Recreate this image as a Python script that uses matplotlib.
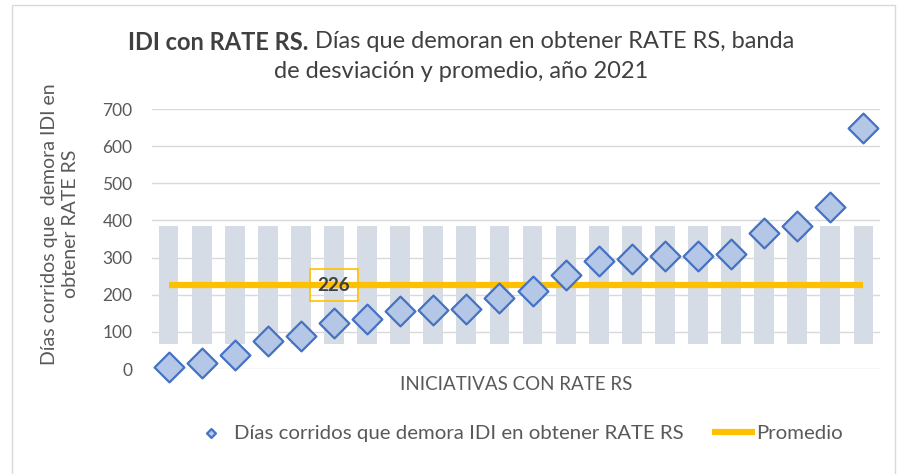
import matplotlib
matplotlib.use("Agg")
import matplotlib.pyplot as plt
import numpy as np
from matplotlib.patches import Rectangle

# data
dias = [5, 16, 37, 75, 89, 125, 134, 155, 160, 161, 192, 211, 254, 290,
        295, 305, 303, 310, 367, 386, 437, 649]
promedio = 226
banda_inf = 68
banda_sup = 384
yticks = [0, 100, 200, 300, 400, 500, 600, 700]

FONT = ["Lato", "DejaVu Sans"]
plt.rcParams["font.family"] = FONT
GRAY = "#595959"

W, H = 907, 474
fig = plt.figure(figsize=(W/100, H/100), dpi=100)

# outer chart border
fig.patches.append(Rectangle((12/W, -0.01), (895-12)/W, (H-5)/H + 0.01, transform=fig.transFigure,
                             fill=False, ec="#D9D9D9", lw=1.0))

ax = fig.add_axes([152/W, (H-369)/H, (880-152)/W, (369-109)/H])
x = np.arange(len(dias))

# deviation band (stacked bar with invisible base)
ax.bar(x, [banda_sup-banda_inf]*len(x), bottom=banda_inf, width=0.6, color="#D6DCE5", zorder=2)
ax.plot(x, [promedio]*len(x), color="#FFC000", lw=4.5, solid_capstyle="butt", zorder=3,
        label="Promedio")
ax.scatter(x, dias, marker="D", s=230, facecolor="#B4C7E7", edgecolor="#4472C4", lw=1.6, zorder=4,
           clip_on=False, label="Días corridos que demora IDI en obtener RATE RS")

ax.text(5, promedio, f"{promedio}", ha="center", va="center", fontsize=13.5, fontweight="bold",
        color="#404040", zorder=5,
        bbox=dict(boxstyle="square,pad=0.4", fc="none", ec="#FFC000", lw=1.2))

ax.set_xlim(-0.5, len(x)-0.5)
ax.set_ylim(0, 700)
ax.set_yticks(yticks)
ax.set_xticks([])
ax.yaxis.grid(True, color="#D9D9D9", lw=1.0, zorder=0)
ax.set_axisbelow(True)
for s in ax.spines.values():
    s.set_visible(False)
ax.tick_params(axis="y", length=0, pad=14, labelsize=12.5, labelcolor=GRAY)

ax.set_xlabel("INICIATIVAS CON RATE RS", fontsize=13.5, color=GRAY, labelpad=5)
fig.text(60/W, 1-224/H, "Días corridos que  demora IDI en\nobtener RATE RS", rotation=90,
         ha="center", va="center", fontsize=14, color=GRAY, linespacing=1.3)

# title: bold part + regular part, centered together
r = fig.canvas.get_renderer()
t1 = fig.text(0, 1-42/H, "IDI con RATE RS.", fontsize=17, fontweight="bold", color="#404040",
              ha="left", va="center")
t2 = fig.text(0, 1-42/H, " Días que demoran en obtener RATE RS, banda", fontsize=17,
              color="#404040", ha="left", va="center")
w1 = t1.get_window_extent(r).width
w2 = t2.get_window_extent(r).width
x0 = (461 - (w1+w2)/2)
t1.set_x(x0/W)
t2.set_x((x0+w1)/W)
fig.text(461/W, 1-72/H, "de desviación y promedio, año 2021", fontsize=17, color="#404040",
         ha="center", va="center")

h, l = ax.get_legend_handles_labels()
leg = fig.legend(h[::-1], l[::-1], loc="center", bbox_to_anchor=(516/W, 1-433/H), ncol=2, frameon=False,
                 fontsize=14.7, labelcolor=GRAY, markerscale=0.3, handlelength=2.1,
                 columnspacing=1.4, handletextpad=0.05)

fig.savefig("out.png", dpi=100)
